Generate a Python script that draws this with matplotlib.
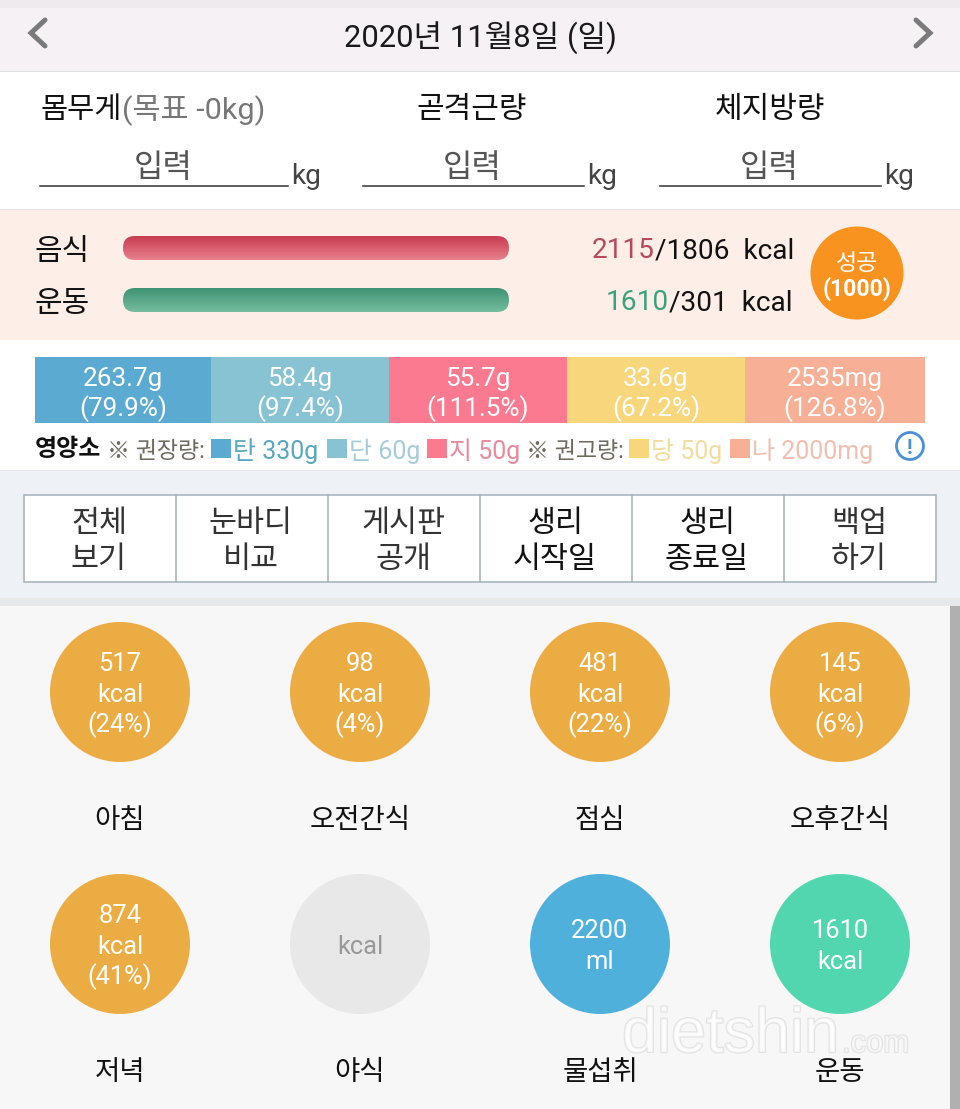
import numpy as np
import matplotlib
matplotlib.use('Agg')
import matplotlib.pyplot as plt
from matplotlib.patches import Circle, FancyBboxPatch, Rectangle
from matplotlib.colors import LinearSegmentedColormap
import matplotlib.patheffects as pe

plt.rcParams['font.family'] = ['Roboto', 'Noto Sans CJK KR', 'DejaVu Sans']

# data
date_label = '2020년 11월8일 (일)'
body_labels = ['곧격근량', '체지방량']
food_eaten, food_goal = 2115, 1806
exercise_done, exercise_goal = 1610, 301
nutrient_amounts = ['263.7g', '58.4g', '55.7g', '33.6g', '2535mg']
nutrient_percents = ['(79.9%)', '(97.4%)', '(111.5%)', '(67.2%)', '(126.8%)']
nutrient_widths = [176, 178, 178, 178, 180]
nutrient_colors = ['#5aaad2', '#88c3d4', '#fb7a90', '#f8d77c', '#f7b096']
legend_labels = ['탄 330g', '단 60g', '지 50g', '당 50g', '나 2000mg']
button_labels = ['전체\n보기', '눈바디\n비교', '게시판\n공개', '생리\n시작일', '생리\n종료일', '백업\n하기']
button_colors = ['#333333', '#333333', '#333333', '#111111', '#111111', '#333333']
meal_values = ['517\nkcal\n(24%)', '98\nkcal\n(4%)', '481\nkcal\n(22%)', '145\nkcal\n(6%)',
               '874\nkcal\n(41%)', 'kcal', '2200\nml', '1610\nkcal']
meal_names = ['아침', '오전간식', '점심', '오후간식', '저녁', '야식', '물섭취', '운동']
meal_colors = ['#ecac44'] * 5 + ['#e8e8e8', '#50b0dc', '#52d6b0']


def px(size):
    return size * 0.72


def label(x, y, s, size, color='#111111', ha='center', **kw):
    return ax.text(x, y, s, fontsize=px(size), color=color, ha=ha, va='center', **kw)


fig = plt.figure(figsize=(9.6, 11.09), dpi=100, facecolor='white')
ax = fig.add_axes([0, 0, 1, 1])
ax.set_axis_off()


def band(y0, y1, color, x0=0, x1=960, **kw):
    ax.add_patch(Rectangle((x0, y0), x1 - x0, y1 - y0, facecolor=color, edgecolor='none', **kw))


def gradient_bar(x, y, w, h, top, bottom):
    cmap = LinearSegmentedColormap.from_list('g', [top, bottom])
    im = ax.imshow(np.linspace(0, 1, 40).reshape(-1, 1), cmap=cmap, aspect='auto',
                   extent=(x, x + w, y + h, y), zorder=2)
    clip = FancyBboxPatch((x + h / 2, y + h / 2), w - h, 0, boxstyle='round,pad=%f' % (h / 2),
                          facecolor='none', edgecolor='none', transform=ax.transData)
    ax.add_patch(clip)
    im.set_clip_path(clip)


# header
band(0, 71, '#f6f1f5')
band(0, 8, '#eeeaee')
band(71, 72, '#dddddd')
label(480, 38, date_label, 31, '#1a1a1a')
ax.plot([45, 31, 45], [20, 33, 46], color='#7a7a7a', lw=3.6, solid_capstyle='round', solid_joinstyle='miter')
ax.plot([916, 930, 916], [20, 33, 46], color='#7a7a7a', lw=3.6, solid_capstyle='round', solid_joinstyle='miter')

# body inputs
label(40, 110, '몸무게', 29.5, ha='left')
label(122, 110, '(목표 -0kg)', 30.5, '#777777', ha='left')
label(472, 110, body_labels[0], 30)
label(770, 110, body_labels[1], 30)
for x0, x1 in [(40, 288), (363, 584), (660, 881)]:
    ax.plot([x0, x1], [185.5, 185.5], color='#333333', lw=1.1)
    label((x0 + x1) / 2 - 1, 168, '입력', 32, '#555555', fontweight='medium')
    label(x1 + 3, 177, 'kg', 28, '#444444', ha='left')

# kcal summary
band(210, 340, '#fdeee7')
band(209, 210, '#e8e8e8')
label(35, 252, '음식', 30, ha='left')
label(35, 304, '운동', 30, ha='left')
gradient_bar(123, 236, 386, 24, '#c83c50', '#e8808c')
gradient_bar(123, 288, 386, 24, '#3f9374', '#74bd9e')
label(655, 251, str(food_eaten), 28, '#b8485c', ha='right')
label(655, 251, '/%d  kcal' % food_goal, 28, ha='left')
label(669, 303, str(exercise_done), 28, '#3ba37c', ha='right')
label(669, 303, '/%d  kcal' % exercise_goal, 28, ha='left')
ax.add_patch(Circle((857, 273), 46.5, facecolor='#f7931e', edgecolor='none'))
label(857, 263, '성공', 23, 'white', fontweight='medium')
label(857, 289, '(1000)', 23, 'white', fontweight='bold')

# nutrient bars
lefts = 35 + np.cumsum([0] + nutrient_widths[:-1])
ax.bar(lefts, [66] * 5, width=nutrient_widths, bottom=357, align='edge', color=nutrient_colors, zorder=2)
for x, w, a, p in zip(lefts, nutrient_widths, nutrient_amounts, nutrient_percents):
    label(x + w / 2, 379, a, 26, 'white', zorder=3)
    label(x + w / 2, 409, p, 26, 'white', zorder=3)

# nutrient legend
label(35, 450, '영양소', 24, ha='left', fontweight='bold')
label(107, 451, '※ 권장량:', 23, '#6f6a5e', ha='left')
label(526, 451, '※ 권고량:', 23, '#6f6a5e', ha='left')
legend_x = [211, 327, 427, 629, 730]
legend_text = ['#5aa5c0', '#a5cdd8', '#e88a9c', '#f3dc9c', '#f0bfae']
for x, s, c, t in zip(legend_x, legend_labels, nutrient_colors, legend_text):
    ax.add_patch(Rectangle((x, 439), 20, 19, facecolor=c, edgecolor='none'))
    label(x + 22, 451, s, 25, t, ha='left')
ax.add_patch(Circle((910, 446), 13.5, facecolor='white', edgecolor='#4a90d9', lw=2))
label(910, 448, '!', 21, '#4a90d9', fontweight='bold')

# button row
band(470, 606, '#eef2f6')
band(470, 471, '#e4e4e4')
band(598, 606, '#e6e8ea')
band(495, 582, 'white', x0=24, x1=936)
ax.add_patch(Rectangle((24, 495), 912, 87, facecolor='none', edgecolor='#a9b6be', lw=1.2))
for i, (s, c) in enumerate(zip(button_labels, button_colors)):
    x = 24 + 152 * i
    if i:
        ax.plot([x, x], [495, 582], color='#a9b6be', lw=1.2)
    first, second = s.split('\n')
    label(x + 75, 524, first, 30.5, c)
    label(x + 75, 560, second, 30.5, c)

# meal circles
band(606, 1109, '#f7f7f7')
band(606, 1109, '#b0b0b0', x0=950, x1=960)
for i, (v, n, c) in enumerate(zip(meal_values, meal_names, meal_colors)):
    row, col = divmod(i, 4)
    cx, cy = 120 + 240 * col, 692 + 252 * row
    ax.add_patch(Circle((cx, cy), 70, facecolor=c, edgecolor='none', zorder=2))
    lines = v.split('\n')
    tc = '#999999' if v == 'kcal' else 'white'
    for j, line in enumerate(lines):
        label(cx, cy + 2.5 + (j - (len(lines) - 1) / 2) * 30.5, line, 25.5, tc, zorder=3)
    label(cx, cy + 129, n, 27.5, zorder=3)

# watermark
halo = [pe.withStroke(linewidth=1.5, foreground='#d4d4d4')]
ax.text(622, 1052, 'dietshin', fontsize=px(63), color='white', alpha=0.6, ha='left', va='baseline',
        family='Liberation Sans', path_effects=halo, zorder=4)
ax.text(842, 1052, '.com', fontsize=px(31), color='white', alpha=0.6, ha='left', va='baseline',
        family='Liberation Sans', path_effects=halo, zorder=4)

ax.set_xlim(0, 960)
ax.set_ylim(1109, 0)
fig.savefig('out.png', dpi=100)
